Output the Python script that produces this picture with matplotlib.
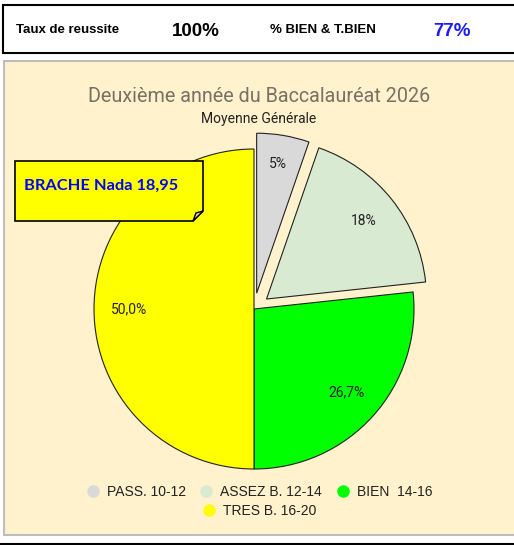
import matplotlib
matplotlib.use("Agg")
import numpy as np
import matplotlib.pyplot as plt
from matplotlib.patches import Rectangle, Polygon
from matplotlib.lines import Line2D

# données
categories = ["PASS. 10-12", "ASSEZ B. 12-14", "BIEN  14-16", "TRES B. 16-20"]
valeurs = [5.3, 18.0, 26.7, 50.0]
etiquettes = ["5%", "18%", "26,7%", "50,0%"]
couleurs = ["#d9d9d9", "#d9ead3", "#00ff00", "#ffff00"]
eclat = [0.1, 0.1, 0, 0]

titre = "Deuxième année du Baccalauréat 2026"
sous_titre = "Moyenne Générale"
note = "BRACHE Nada 18,95"
taux_reussite = "100%"
taux_bien = "77%"

W, H = 514, 545
fig = plt.figure(figsize=(W / 100, H / 100), dpi=100)
fig.patch.set_facecolor("white")


def fx(x):
    return x / W


def fy(y):
    return 1 - y / H


# bandeau du haut
fig.patches.append(Rectangle((fx(3), fy(53)), fx(530) - fx(3), fy(5) - fy(53),
                             transform=fig.transFigure, facecolor="white",
                             edgecolor="black", lw=1.5, zorder=-2))
fig.text(fx(16), fy(30), "Taux de reussite", family="Liberation Sans",
         weight="bold", fontsize=9.5, va="center")
fig.text(fx(172), fy(31), taux_reussite, family="Liberation Sans",
         weight="bold", fontsize=13.5, va="center")
fig.text(fx(270), fy(30), "% BIEN & T.BIEN", family="Liberation Sans",
         weight="bold", fontsize=9.5, va="center")
fig.text(fx(433), fy(31), taux_bien, family="Liberation Sans",
         weight="bold", fontsize=13.5, va="center", color="#1a1aff")

# panneau du graphique
fig.patches.append(Rectangle((fx(4), fy(535)), fx(530) - fx(4), fy(61) - fy(535),
                             transform=fig.transFigure, facecolor="#fff2cc",
                             edgecolor="#bdbdbd", lw=1.5, zorder=-2))
fig.lines.append(Line2D([0, 1], [fy(544), fy(544)], transform=fig.transFigure,
                        color="black", lw=1.5, zorder=-2))

fig.text(fx(259), fy(96), titre, family="Roboto", fontsize=14.2,
         color="#767265", ha="center", va="center")
fig.text(fx(259), fy(119), sous_titre, family="Roboto", fontsize=10,
         color="#222222", ha="center", va="center")

# camembert
cx, cy, r = 254, 309, 163
half = 200
ax = fig.add_axes([fx(cx - half), fy(cy + half), 2 * half / W, 2 * half / H])
ax.set_zorder(1)
ax.set_xlim(-half / r, half / r)
ax.set_ylim(-half / r, half / r)
ax.set_aspect("equal")
ax.axis("off")
it = iter(etiquettes)
wedges, texts, autotexts = ax.pie(valeurs, colors=couleurs, explode=eclat,
                                  startangle=90, counterclock=False,
                                  autopct=lambda p: next(it), pctdistance=0.78,
                                  wedgeprops=dict(edgecolor="#222222", lw=0.8))
for t in autotexts:
    t.set_family("Roboto")
    t.set_fontsize(10)
    t.set_color("#222222")
# étiquette 5% un peu plus loin du centre
w0 = wedges[0]
a = np.deg2rad((w0.theta1 + w0.theta2) / 2)
autotexts[0].set_position((0.92 * np.cos(a), 0.92 * np.sin(a)))

# étiquette jaune
x0, y0, x1, y1 = 15, 161, 203, 221
fig.patches.append(Polygon([(fx(x0), fy(y0)), (fx(x1), fy(y0)), (fx(x1), fy(211)),
                            (fx(193), fy(y1)), (fx(x0), fy(y1))],
                           closed=True, transform=fig.transFigure,
                           facecolor="#ffff00", edgecolor="black", lw=1.2, zorder=3))
fig.patches.append(Polygon([(fx(193), fy(y1)), (fx(x1), fy(211)), (fx(196), fy(213))],
                           closed=True, transform=fig.transFigure,
                           facecolor="#e8e890", edgecolor="black", lw=1.0, zorder=3))
fig.text(fx(24), fy(186), note, family="Lato", weight="bold", fontsize=11.8,
         color="#0000ff", va="center", zorder=4)

# légende
handles = [Line2D([], [], marker="o", ls="", markersize=8, color=c) for c in couleurs]
kw = dict(frameon=False, handlelength=1.0, handletextpad=0.5, columnspacing=1.0,
          borderpad=0, borderaxespad=0,
          prop=dict(family="Liberation Sans", size=10))
leg1 = fig.legend(handles[:3], categories[:3], ncol=3, loc="center",
                  bbox_to_anchor=(fx(259), fy(492)), labelcolor="#222222", **kw)
leg2 = fig.legend(handles[3:], categories[3:], ncol=1, loc="center",
                  bbox_to_anchor=(fx(259), fy(511)), labelcolor="#222222", **kw)

fig.savefig("out.png", dpi=100)
